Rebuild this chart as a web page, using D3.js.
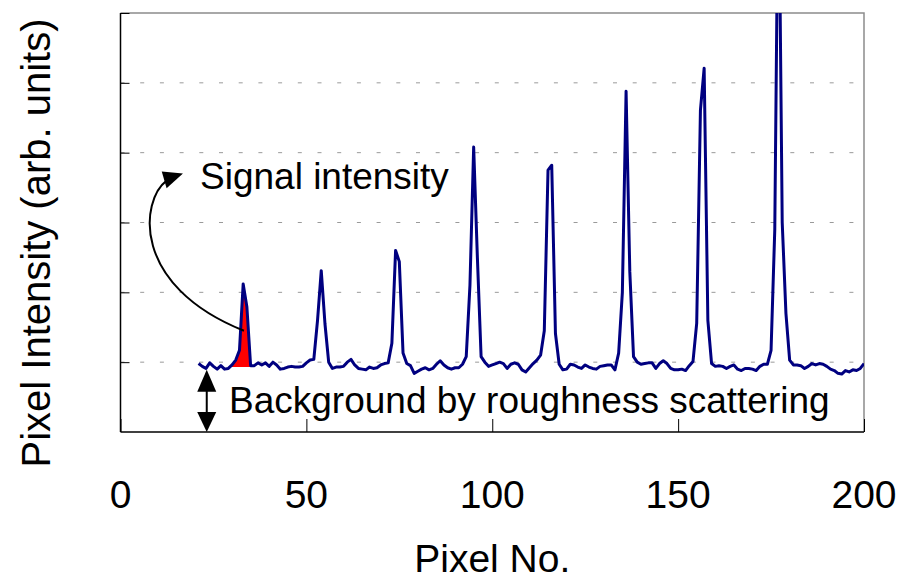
<!DOCTYPE html>
<html>
<head>
<meta charset="utf-8">
<script src="https://cdn.jsdelivr.net/npm/d3@7"></script>
<style>
  body { margin: 0; background: #fff; }
  text { font-family: Arial, "Liberation Sans", sans-serif; fill: #000; }
</style>
</head>
<body>
<div id="chart"></div>
<script>
const WIDTH = 913;
const HEIGHT = 581;

// pixel numbers 21..200, one intensity value per pixel
const firstPixel = 21;
const intensity = [
  0.98, 0.94, 0.91, 0.99, 0.94, 0.90, 0.95, 0.90, 0.91, 0.96,
  1.03, 1.17, 2.12, 1.79, 0.95, 0.95, 0.99, 0.96, 0.99, 0.94,
  1.00, 0.96, 0.90, 0.91, 0.93, 0.94, 0.93, 0.93, 0.94, 0.99,
  1.03, 1.04, 1.60, 2.31, 1.55, 1.00, 0.91, 0.93, 0.93, 0.94,
  1.00, 1.04, 0.96, 0.91, 0.90, 0.89, 0.93, 0.91, 0.92, 0.96,
  0.98, 0.99, 1.27, 2.60, 2.44, 1.13, 0.98, 0.95, 0.84, 0.87,
  0.90, 0.92, 0.89, 0.91, 0.97, 1.02, 0.96, 0.92, 0.90, 0.92,
  0.92, 0.97, 1.08, 2.10, 4.08, 2.50, 1.08, 1.00, 0.94, 0.96,
  0.98, 1.00, 0.98, 0.91, 0.97, 0.99, 0.97, 0.89, 0.86, 0.92,
  0.98, 1.03, 1.10, 1.45, 3.75, 3.82, 1.41, 0.97, 0.89, 0.90,
  0.97, 0.96, 0.93, 0.91, 0.96, 0.93, 0.91, 0.90, 0.94, 0.95,
  0.96, 0.96, 0.89, 1.13, 2.00, 4.88, 2.30, 1.08, 1.00, 0.97,
  0.98, 0.99, 0.99, 0.91, 0.98, 1.02, 0.98, 0.91, 0.89, 0.89,
  0.90, 0.88, 0.95, 1.01, 1.56, 4.61, 5.21, 1.60, 0.98, 0.94,
  0.95, 0.94, 0.91, 0.94, 0.96, 0.90, 0.88, 0.91, 0.91, 0.90,
  0.88, 0.94, 0.97, 0.97, 1.17, 2.90, 8.50, 3.00, 1.70, 1.03,
  0.96, 0.96, 0.95, 0.91, 0.94, 0.98, 0.96, 0.98, 0.97, 0.94,
  0.90, 0.88, 0.84, 0.83, 0.88, 0.86, 0.89, 0.88, 0.91, 0.98,
];

// shaded "signal" peak and its floor
const signalPixels = [30, 31, 32, 33, 34, 35, 36];
const signalFloor = 0.93;

const xTicks = [0, 50, 100, 150, 200];
const yTicks = [1, 2, 3, 4, 5, 6];
const gridLevels = [1, 2, 3, 4, 5];

const margin = { left: 120.5, right: 49, top: 13, bottom: 149 };

const x = d3
  .scaleLinear()
  .domain([0, 200])
  .range([margin.left, WIDTH - margin.right]);
const y = d3
  .scaleLinear()
  .domain([0, 6])
  .range([HEIGHT - margin.bottom, margin.top]);

const points = intensity.map((v, i) => ({ px: firstPixel + i, v: v }));

const svg = d3
  .select("#chart")
  .append("svg")
  .attr("width", WIDTH)
  .attr("height", HEIGHT);

svg
  .append("defs")
  .append("clipPath")
  .attr("id", "plotclip")
  .append("rect")
  .attr("x", x(0))
  .attr("y", y(6))
  .attr("width", x(200) - x(0))
  .attr("height", y(0) - y(6));

// dashed grid
svg
  .selectAll("line.grid")
  .data(gridLevels)
  .enter()
  .append("line")
  .attr("class", "grid")
  .attr("x1", x(0))
  .attr("x2", x(200))
  .attr("y1", (d) => y(d))
  .attr("y2", (d) => y(d))
  .style("stroke", "#9a9a9a")
  .style("stroke-width", 1)
  .style("stroke-dasharray", "4,15.7");

// frame: top and right in grey
svg
  .append("path")
  .attr("d", `M${x(0)},${y(6)}H${x(200)}V${y(0)}`)
  .style("fill", "none")
  .style("stroke", "#8c8c8c")
  .style("stroke-width", 1.5);

// axes with inner ticks
const xAxis = d3.axisBottom(x).tickValues(xTicks).tickSize(-13).tickFormat("");
svg
  .append("g")
  .attr("transform", `translate(0,${y(0)})`)
  .call(xAxis)
  .call((g) => g.select(".domain").attr("d", `M${x(0)},0H${x(200)}`));

const yAxis = d3.axisLeft(y).tickValues(yTicks).tickSize(-9).tickFormat("");
svg
  .append("g")
  .attr("transform", `translate(${x(0)},0)`)
  .call(yAxis)
  .call((g) => g.select(".domain").attr("d", `M0,${y(0)}V${y(6)}`));

svg.selectAll(".domain").style("stroke", "#000").style("stroke-width", 1.5);
svg.selectAll(".tick line").style("stroke", "#000").style("stroke-width", 1);

// tick labels
svg
  .selectAll("text.xlabel")
  .data(xTicks)
  .enter()
  .append("text")
  .attr("class", "xlabel")
  .attr("x", (d) => x(d))
  .attr("y", 508)
  .attr("text-anchor", "middle")
  .style("font-size", "39px")
  .text((d) => d);

// red signal area
const signalData = points.filter((d) => signalPixels.includes(d.px));
svg
  .append("path")
  .datum(signalData)
  .attr("clip-path", "url(#plotclip)")
  .attr(
    "d",
    d3
      .area()
      .x((d) => x(d.px))
      .y0(y(signalFloor))
      .y1((d) => y(Math.max(d.v, signalFloor)))
  )
  .style("fill", "#ff0000");

// profile line
svg
  .append("path")
  .datum(points)
  .attr("clip-path", "url(#plotclip)")
  .attr(
    "d",
    d3
      .line()
      .x((d) => x(d.px))
      .y((d) => y(d.v))
  )
  .style("fill", "none")
  .style("stroke", "#000080")
  .style("stroke-width", 3)
  .style("stroke-linejoin", "round");

// curved arrow from peak to "Signal intensity"
const curve = [
  [33.2, 1.45],
  [2.7, 2.1],
  [5.4, 3.32],
  [12.4, 3.6],
];
svg
  .append("path")
  .attr(
    "d",
    `M${x(curve[0][0])},${y(curve[0][1])}C${curve
      .slice(1)
      .map((p) => x(p[0]) + "," + y(p[1]))
      .join(" ")}`
  )
  .style("fill", "none")
  .style("stroke", "#000")
  .style("stroke-width", 2);

const headTip = [16.8, 3.70];
const headBase = [
  [11.1, 3.73],
  [12.4, 3.49],
];
svg
  .append("polygon")
  .attr(
    "points",
    [headTip, headBase[0], headBase[1]]
      .map((p) => x(p[0]) + "," + y(p[1]))
      .join(" ")
  )
  .style("fill", "#000");

// double arrow for the background level
const bgX = x(23.2);
const bgTop = y(0.89);
const bgBottom = y(0);
svg
  .append("line")
  .attr("x1", bgX)
  .attr("x2", bgX)
  .attr("y1", bgTop + 10)
  .attr("y2", bgBottom - 10)
  .style("stroke", "#000")
  .style("stroke-width", 2);
svg
  .append("polygon")
  .attr(
    "points",
    `${bgX},${bgTop} ${bgX - 9.5},${bgTop + 22} ${bgX + 9.5},${bgTop + 22}`
  )
  .style("fill", "#000");
svg
  .append("polygon")
  .attr(
    "points",
    `${bgX},${bgBottom} ${bgX - 9.5},${bgBottom - 20} ${bgX + 9.5},${bgBottom - 20}`
  )
  .style("fill", "#000");

// annotation texts
svg
  .append("text")
  .attr("x", 200)
  .attr("y", 189)
  .style("font-size", "37px")
  .text("Signal intensity");

svg
  .append("text")
  .attr("x", 229)
  .attr("y", 413)
  .style("font-size", "37px")
  .text("Background by roughness scattering");

// axis titles
svg
  .append("text")
  .attr("x", (x(0) + x(200)) / 2)
  .attr("y", 572)
  .attr("text-anchor", "middle")
  .style("font-size", "39px")
  .text("Pixel No.");

svg
  .append("text")
  .attr("transform", "translate(50,243) rotate(-90)")
  .attr("text-anchor", "middle")
  .style("font-size", "40px")
  .text("Pixel Intensity (arb. units)");
</script>
</body>
</html>
